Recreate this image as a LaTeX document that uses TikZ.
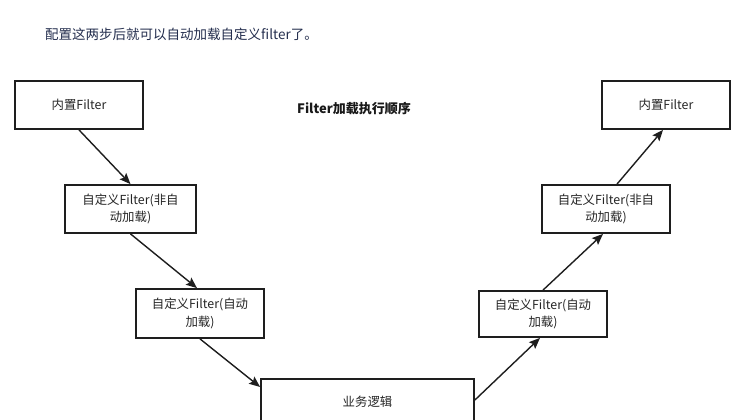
\documentclass[tikz,border=0pt]{standalone}
\usepackage{fontspec}
\newfontfamily\cjk{Noto Sans CJK SC}
\usetikzlibrary{arrows.meta}
\definecolor{titlecol}{RGB}{36,46,78}
\definecolor{linecol}{RGB}{30,30,30}
\tikzset{
  box/.style={draw=linecol, line width=1.8pt, align=center, inner sep=0pt,
    font=\cjk\fontsize{12.4}{17.5}\selectfont, text=black!85},
  arr/.style={draw=linecol, line width=1.4pt, -{Stealth[length=11pt,width=9pt,inset=2pt]}},
}
\begin{document}
\begin{tikzpicture}[x=1pt,y=-1pt]
\useasboundingbox (0,0) rectangle (747,420);
\clip (0,0) rectangle (747,420);
\fill[white] (0,0) rectangle (747,420);
\node[anchor=west, inner sep=0pt, font=\cjk\fontsize{13.5}{16}\selectfont, text=titlecol] (title) at (45,34) {配置这两步后就可以自动加载自定义filter了。};
\node[font=\cjk\bfseries\fontsize{13}{15}\selectfont, text=black!90] (head) at (354,109) {Filter加载执行顺序};
\node[box, minimum width=128pt, minimum height=48pt] (b1) at (79,105) {内置Filter};
\node[box, minimum width=131pt, minimum height=48pt] (b2) at (130.5,209) {自定义Filter(非自\\动加载)};
\node[box, minimum width=128pt, minimum height=49pt] (b3) at (200,313.5) {自定义Filter(自动\\加载)};
\node[box, minimum width=213pt, minimum height=46pt] (biz) at (367.5,402) {业务逻辑};
\node[box, minimum width=128pt, minimum height=46pt] (r3) at (543,314) {自定义Filter(自动\\加载)};
\node[box, minimum width=128pt, minimum height=48pt] (r2) at (606,209) {自定义Filter(非自\\动加载)};
\node[box, minimum width=128pt, minimum height=48pt] (r1) at (666,105) {内置Filter};
\draw[arr] (b1.south) -- (b2.north);
\draw[arr] (b2.south) -- ([xshift=-3pt]b3.north);
\draw[arr] (b3.south) -- ([yshift=15pt]biz.west);
\draw[arr] ([yshift=2pt]biz.east) -- ([xshift=-3pt]r3.south);
\draw[arr] (r3.north) -- ([xshift=-3pt]r2.south);
\draw[arr] ([xshift=11pt]r2.north) -- ([xshift=-3pt]r1.south);
\end{tikzpicture}
\end{document}
